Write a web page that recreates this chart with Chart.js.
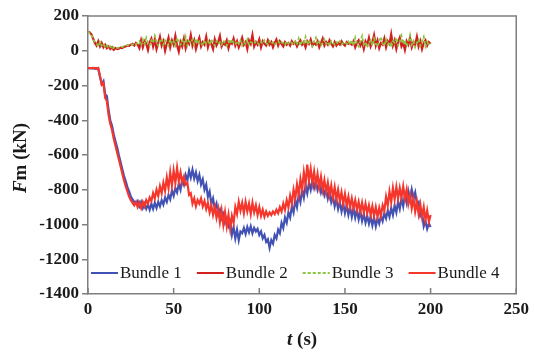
<!DOCTYPE html>
<html>
<head>
<meta charset="utf-8">
<script src="https://cdn.jsdelivr.net/npm/chart.js@4.4.1/dist/chart.umd.min.js"></script>
<style>
  html, body { margin: 0; padding: 0; background: #fff; }
  #wrap { width: 534px; height: 354px; }
</style>
</head>
<body>
<div id="wrap"><canvas id="c"></canvas></div>
<script>
// time (s)
const T = [
  0, 1, 2, 3, 4, 5, 6, 7, 8, 9, 10, 11, 12, 13, 14, 15, 16, 17, 18, 19,
  20, 21, 22, 23, 24, 25, 26, 27, 28, 29, 30, 31, 32, 33, 34, 35, 36, 37, 38, 39,
  40, 41, 42, 43, 44, 45, 46, 47, 48, 49, 50, 51, 52, 53, 54, 55, 56, 57, 58, 59,
  60, 61, 62, 63, 64, 65, 66, 67, 68, 69, 70, 71, 72, 73, 74, 75, 76, 77, 78, 79,
  80, 81, 82, 83, 84, 85, 86, 87, 88, 89, 90, 91, 92, 93, 94, 95, 96, 97, 98, 99,
  100, 101, 102, 103, 104, 105, 106, 107, 108, 109, 110, 111, 112, 113, 114, 115, 116, 117, 118, 119,
  120, 121, 122, 123, 124, 125, 126, 127, 128, 129, 130, 131, 132, 133, 134, 135, 136, 137, 138, 139,
  140, 141, 142, 143, 144, 145, 146, 147, 148, 149, 150, 151, 152, 153, 154, 155, 156, 157, 158, 159,
  160, 161, 162, 163, 164, 165, 166, 167, 168, 169, 170, 171, 172, 173, 174, 175, 176, 177, 178, 179,
  180, 181, 182, 183, 184, 185, 186, 187, 188, 189, 190, 191, 192, 193, 194, 195, 196, 197, 198, 199,
  200
];

// Fm (kN) per bundle
const bundle1 = [
  -100, -100, -102, -100, -104, -100, -105, -150, -190, -175,
  -250, -260, -340, -400, -430, -480, -520, -555, -600, -640,
  -680, -720, -750, -785, -810, -840, -855, -870, -880, -865,
  -895, -870, -905, -880, -910, -885, -915, -880, -910, -875,
  -905, -870, -895, -860, -885, -845, -870, -830, -855, -805,
  -835, -790, -815, -765, -800, -740, -770, -715, -745, -690,
  -730, -685, -735, -700, -750, -715, -770, -740, -800, -770,
  -840, -810, -880, -850, -910, -880, -940, -915, -965, -940,
  -990, -965, -1010, -985, -1060, -1015, -1080, -1030, -1090, -1040,
  -1050, -1020, -1055, -1015, -1045, -1010, -1050, -1020, -1040, -1025,
  -1060, -1040, -1080, -1060, -1100, -1085, -1135, -1090, -1110, -1060,
  -1080, -1030, -1050, -990, -1020, -960, -990, -930, -960, -895,
  -930, -860, -900, -830, -870, -800, -845, -775, -820, -760,
  -800, -745, -790, -750, -800, -765, -815, -780, -830, -795,
  -850, -810, -870, -835, -895, -855, -910, -870, -925, -880,
  -935, -890, -945, -900, -955, -905, -960, -915, -970, -925,
  -980, -940, -990, -950, -995, -955, -1005, -960, -1010, -965,
  -995, -950, -980, -935, -965, -920, -955, -905, -945, -890,
  -930, -870, -910, -850, -895, -830, -875, -810, -860, -800,
  -850, -815, -880, -870, -950, -930, -1010, -980, -1025, -995,
  -1015
];
const bundle2 = [
  110, 105, 95, 70, 45, 30, 55, 25, 45, 20,
  35, 15, 25, 10, 20, 5, 15, 10, 12, 18,
  15, 22, 25, 30, 28, 35, 40, 30, 45, 35,
  15, 60, 20, 55, 40, 5, 50, 70, 25, 65,
  10, 45, 80, 30, 55, 0, 40, 75, 20, 60,
  35, 85, 30, -5, 50, 25, 70, 15, 55, 40,
  90, 30, 60, 10, 45, 75, 25, 50, 35, 80,
  20, 55, 40, 10, 65, 30, 50, 85, 25, 45,
  35, 60, 15, 50, 40, 70, 30, 55, 20, 45,
  75, 35, 50, 10, 60, 40, 90, 25, 50, 35,
  65, 20, 55, 40, 30, 60, 35, 50, 20, 45,
  65, 30, 55, 40, 25, 50, 35, 45, 30, 55,
  40, 50, 25, 45, 60, 35, 50, 20, 55, 40,
  65, 30, 45, 35, 55, 20, 45, 70, 30, 50,
  35, 60, 40, 25, 50, 30, 45, 35, 55, 40,
  30, 50, 40, 45, 35, 55, 20, 45, 60, 30,
  50, 10, 55, 35, 75, 25, 50, 90, 30, 60,
  15, 45, 35, 70, 20, 55, 40, 95, 30, 60,
  10, 50, 75, 25, 45, 5, 55, 35, 70, 20,
  50, 35, 80, 25, 55, 10, 45, 60, 30, 50,
  40
];
const bundle3 = [
  110, 100, 92, 65, 50, 40, 25, 50, 30, 40,
  20, 30, 15, 25, 10, 20, 12, 15, 18, 20,
  22, 25, 28, 32, 35, 38, 35, 42, 38, 45,
  55, 30, 65, 40, 75, 45, 30, 60, 45, 85,
  50, 30, 55, 70, 35, 60, 45, 30, 65, 40,
  55, 30, 75, 45, 35, 60, 40, 80, 30, 55,
  45, 65, 35, 70, 40, 55, 45, 30, 60, 40,
  55, 35, 65, 45, 30, 55, 40, 50, 35, 60,
  45, 30, 55, 40, 65, 45, 35, 55, 40, 60,
  30, 50, 40, 65, 35, 50, 45, 40, 55, 45,
  35, 50, 40, 60, 45, 35, 55, 40, 50, 35,
  45, 55, 40, 50, 45, 35, 55, 40, 50, 45,
  35, 55, 40, 70, 30, 55, 45, 80, 35, 60,
  40, 25, 55, 75, 35, 50, 30, 45, 65, 40,
  50, 30, 55, 45, 35, 50, 40, 55, 35, 45,
  50, 40, 55, 35, 60, 30, 75, 40, 25, 55,
  85, 35, 50, 20, 45, 60, 30, 70, 40, 25,
  55, 80, 40, 30, 65, 35, 50, 20, 55, 45,
  75, 30, 50, 85, 40, 60, 25, 50, 90, 35,
  55, 20, 45, 65, 30, 55, 80, 25, 50, 35,
  45
];
const bundle4 = [
  -100, -100, -100, -98, -100, -104, -100, -145, -195, -185,
  -270, -290, -370, -420, -455, -505, -545, -585, -625, -665,
  -705, -745, -780, -810, -840, -860, -875, -890, -870, -900,
  -875, -905, -870, -895, -860, -880, -845, -865, -820, -850,
  -800, -835, -780, -820, -760, -805, -730, -790, -700, -775,
  -690, -760, -675, -750, -700, -760, -725, -770, -760, -830,
  -820, -880, -850, -895, -860, -880, -850, -895, -865, -910,
  -875, -930, -890, -945, -900, -960, -910, -985, -920, -1000,
  -930, -1010, -945, -1025, -950, -990, -900, -940, -870, -920,
  -875, -935, -870, -925, -880, -940, -875, -930, -890, -945,
  -900, -950, -915, -955, -925, -950, -930, -945, -925, -940,
  -915, -935, -900, -925, -880, -915, -860, -900, -835, -880,
  -800, -850, -770, -830, -740, -800, -700, -770, -655, -745,
  -680, -760, -695, -770, -710, -785, -725, -800, -745, -815,
  -760, -830, -775, -845, -785, -855, -800, -865, -815, -880,
  -825, -890, -840, -900, -850, -905, -860, -915, -870, -925,
  -875, -930, -880, -935, -890, -945, -895, -950, -900, -955,
  -905, -950, -890, -920, -840, -890, -810, -870, -790, -855,
  -785, -850, -790, -845, -780, -850, -800, -880, -830, -905,
  -850, -925, -870, -940, -885, -955, -900, -975, -920, -985,
  -945
];

const seriesNames = ['Bundle 1', 'Bundle 2', 'Bundle 3', 'Bundle 4'];
const seriesColors = ['#4252b4', '#d21f1f', '#8cc63f', '#f5362c'];
const seriesValues = [bundle1, bundle2, bundle3, bundle4];

const xTicks = [0, 50, 100, 150, 200, 250];
const yTicks = [200, 0, -200, -400, -600, -800, -1000, -1200, -1400];

const tickFont = { family: 'Liberation Serif', size: 17, weight: 'bold' };
const axisGray = '#7f7f7f';

// frame, inner x ticks, axis titles and the legend inside the plot
const decorations = {
    id: 'decorations',
    afterDraw(chart) {
        const { ctx, chartArea: a, scales } = chart;
        ctx.save();

        // top and right border
        ctx.strokeStyle = axisGray;
        ctx.lineWidth = 1.5;
        ctx.beginPath();
        ctx.moveTo(a.left, a.top);
        ctx.lineTo(a.right, a.top);
        ctx.lineTo(a.right, a.bottom);
        ctx.stroke();

        // x ticks pointing inside
        ctx.beginPath();
        scales.x.ticks.forEach(t => {
            const px = scales.x.getPixelForValue(t.value);
            ctx.moveTo(px, a.bottom);
            ctx.lineTo(px, a.bottom - 6);
        });
        ctx.stroke();

        // axis titles
        ctx.fillStyle = '#1a1a1a';
        ctx.textBaseline = 'middle';
        const cx = (a.left + a.right) / 2;
        ctx.font = 'italic bold 19px "Liberation Serif"';
        const tW = ctx.measureText('t').width;
        ctx.font = 'bold 19px "Liberation Serif"';
        const restW = ctx.measureText(' (s)').width;
        let sx = cx - (tW + restW) / 2;
        ctx.textAlign = 'left';
        ctx.font = 'italic bold 19px "Liberation Serif"';
        ctx.fillText('t', sx, 340);
        ctx.font = 'bold 19px "Liberation Serif"';
        ctx.fillText(' (s)', sx + tW, 340);

        ctx.save();
        ctx.translate(21, (a.top + a.bottom) / 2 + 3);
        ctx.rotate(-Math.PI / 2);
        ctx.font = 'italic bold 19px "Liberation Serif"';
        const fW = ctx.measureText('F').width;
        ctx.font = 'bold 19px "Liberation Serif"';
        const mW = ctx.measureText('m (kN)').width;
        sx = -(fW + mW) / 2;
        ctx.font = 'italic bold 19px "Liberation Serif"';
        ctx.fillText('F', sx, 0);
        ctx.font = 'bold 19px "Liberation Serif"';
        ctx.fillText('m (kN)', sx + fW, 0);
        ctx.restore();

        // legend
        ctx.font = '17px "Liberation Serif"';
        ctx.textAlign = 'left';
        let lx = a.left + 3;
        const ly = a.bottom - 21;
        chart.data.datasets.forEach(ds => {
            ctx.strokeStyle = ds.borderColor;
            ctx.lineWidth = 2;
            ctx.setLineDash(ds.borderDash || []);
            ctx.beginPath();
            ctx.moveTo(lx, ly);
            ctx.lineTo(lx + 27, ly);
            ctx.stroke();
            ctx.setLineDash([]);
            ctx.fillStyle = '#1a1a1a';
            ctx.fillText(ds.label, lx + 29, ly + 1);
            lx += 29 + ctx.measureText(ds.label).width + 15;
        });

        ctx.restore();
    }
};

const datasets = seriesNames.map((name, k) => ({
    label: name,
    data: T.map((t, i) => ({ x: t, y: seriesValues[k][i] })),
    borderColor: seriesColors[k],
    borderWidth: k === 2 ? 1.8 : 2.2,
    borderDash: k === 2 ? [3, 2] : [],
    pointRadius: 0,
    tension: 0,
    fill: false,
    order: (k === 2 || k === 3) ? 0 : 1
}));

new Chart(document.getElementById('c'), {
    type: 'line',
    data: { datasets },
    options: {
        responsive: true,
        maintainAspectRatio: false,
        animation: false,
        layout: { padding: { top: 16, right: 15, left: 0, bottom: 0 } },
        plugins: {
            legend: { display: false },
            tooltip: { enabled: false }
        },
        scales: {
            x: {
                type: 'linear',
                min: 0,
                max: 250,
                afterBuildTicks: s => { s.ticks = xTicks.map(v => ({ value: v })); },
                afterFit: s => { s.height = 60; },
                grid: { display: false, drawTicks: false },
                border: { display: true, color: axisGray, width: 1.5 },
                ticks: { font: tickFont, color: '#1a1a1a', padding: 5, maxRotation: 0 }
            },
            y: {
                min: -1400,
                max: 200,
                afterBuildTicks: s => { s.ticks = yTicks.map(v => ({ value: v })); },
                afterFit: s => { s.width = 88; },
                grid: { drawOnChartArea: false, drawTicks: true, tickLength: 6, color: axisGray, lineWidth: 1.5 },
                border: { display: true, color: axisGray, width: 1.5 },
                ticks: { font: tickFont, color: '#1a1a1a', padding: 3, callback: v => String(v) }
            }
        }
    },
    plugins: [decorations]
});
</script>
</body>
</html>
